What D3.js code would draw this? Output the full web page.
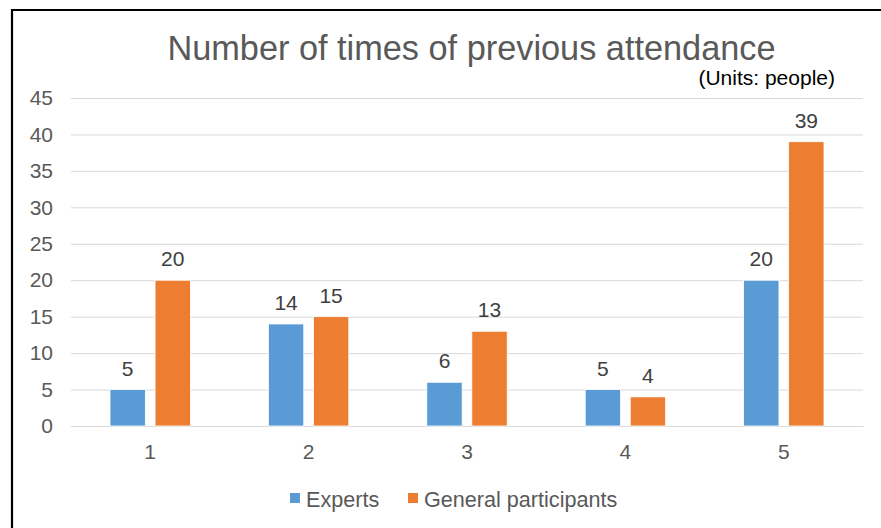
<!DOCTYPE html>
<html>
<head>
<meta charset="utf-8">
<script src="https://cdn.jsdelivr.net/npm/d3@7"></script>
<style>
  html, body { margin: 0; padding: 0; background: #fff; }
  svg { display: block; font-family: "Liberation Sans", Arial, sans-serif; }
</style>
</head>
<body>
<svg id="chart" width="881" height="528"></svg>
<script>
// Attendance counts by number of previous visits
const categories = ["1", "2", "3", "4", "5"];
const seriesNames = ["Experts", "General participants"];
const experts = [5, 14, 6, 5, 20];
const general = [20, 15, 13, 4, 39];
const yTicks = [0, 5, 10, 15, 20, 25, 30, 35, 40, 45];
const colors = ["#5B9BD5", "#ED7D31"];

const svg = d3.select("#chart");
const W = 881, H = 528;

svg.append("rect").attr("width", W).attr("height", H).attr("fill", "#fff");

// frame line along top and left edges
svg.append("path")
  .attr("d", `M12,${H} L12,10 L${W},10`)
  .attr("fill", "none").attr("stroke", "#000").attr("stroke-width", 2.2);

const plot = { left: 71, right: 863, top: 98, bottom: 426 };

const x = d3.scaleBand().domain(categories).range([plot.left, plot.right]).padding(0);
const inner = d3.scaleBand().domain(seriesNames)
  .range([39, x.bandwidth() - 39]).paddingInner(0.215).paddingOuter(0);
const y = d3.scaleLinear().domain([0, 45]).range([plot.bottom, plot.top]);

// horizontal gridlines and y tick labels
const yAxis = d3.axisLeft(y).tickValues(yTicks).tickSize(-(plot.right - plot.left)).tickPadding(18);
const gy = svg.append("g").attr("transform", `translate(${plot.left},0)`).call(yAxis);
gy.select(".domain").remove();
gy.selectAll(".tick line").attr("stroke", "#D9D9D9").attr("stroke-width", 1);
gy.selectAll(".tick text")
  .attr("fill", "#595959").attr("font-size", 21)
  .attr("font-family", "Liberation Sans, Arial, sans-serif");

// category axis labels
const xAxis = d3.axisBottom(x).tickSize(0).tickPadding(18);
const gx = svg.append("g").attr("transform", `translate(0,${plot.bottom})`).call(xAxis);
gx.select(".domain").attr("stroke", "#D9D9D9");
gx.selectAll(".tick text")
  .attr("fill", "#595959").attr("font-size", 21)
  .attr("font-family", "Liberation Sans, Arial, sans-serif");

// bars with value labels
const rows = categories.map((c, i) => ({ cat: c, vals: [experts[i], general[i]] }));
const groups = svg.append("g").selectAll("g").data(rows).join("g")
  .attr("transform", d => `translate(${x(d.cat)},0)`);

const items = d => d.vals.map((v, j) => ({ name: seriesNames[j], v, j }));

groups.selectAll("rect").data(items).join("rect")
  .attr("x", d => inner(d.name))
  .attr("y", d => y(d.v))
  .attr("width", inner.bandwidth())
  .attr("height", d => y(0) - y(d.v))
  .attr("fill", d => colors[d.j])
  .attr("stroke", "#fff").attr("stroke-width", 0.8);

groups.selectAll("text").data(items).join("text")
  .attr("x", d => inner(d.name) + inner.bandwidth() / 2)
  .attr("y", d => y(d.v) - 14)
  .attr("text-anchor", "middle")
  .attr("font-size", 21)
  .attr("fill", "#404040")
  .text(d => d.v);

// title and unit note
svg.append("text")
  .attr("x", 471.5).attr("y", 59.5)
  .attr("text-anchor", "middle")
  .attr("font-size", 34.3)
  .attr("fill", "#595959")
  .text("Number of times of previous attendance");

svg.append("text")
  .attr("x", 835).attr("y", 85)
  .attr("text-anchor", "end")
  .attr("font-size", 21)
  .attr("fill", "#000")
  .text("(Units: people)");

// legend
const legendItems = [
  { name: seriesNames[0], color: colors[0], sx: 290, tx: 306 },
  { name: seriesNames[1], color: colors[1], sx: 408, tx: 424 }
];
const lg = svg.append("g");
lg.selectAll("rect").data(legendItems).join("rect")
  .attr("x", d => d.sx).attr("y", 493).attr("width", 10).attr("height", 10)
  .attr("fill", d => d.color);
lg.selectAll("text").data(legendItems).join("text")
  .attr("x", d => d.tx).attr("y", 506.5)
  .attr("font-size", 21.6)
  .attr("fill", "#595959")
  .text(d => d.name);
</script>
</body>
</html>
